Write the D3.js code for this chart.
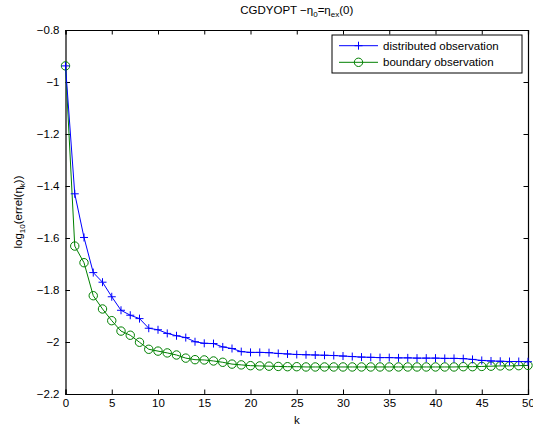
<!DOCTYPE html>
<html><head><meta charset="utf-8">
<script src="https://cdn.jsdelivr.net/npm/d3@7"></script>
<style>body{margin:0;background:#fff;} svg{display:block;font-family:"Liberation Sans",Arial,Helvetica,sans-serif;}</style>
</head><body>
<svg id="chart" width="533" height="430"></svg>
<script>
const kValues = d3.range(0, 51);
const distributed = [-0.938, -1.430, -1.598, -1.733, -1.770, -1.826, -1.878, -1.897, -1.910, -1.947,
  -1.953, -1.967, -1.976, -1.983, -1.999, -2.005, -2.006, -2.019, -2.025, -2.037,
  -2.040, -2.040, -2.041, -2.044, -2.046, -2.048, -2.049, -2.050, -2.051, -2.052,
  -2.054, -2.056, -2.058, -2.059, -2.060, -2.060, -2.061, -2.061, -2.062, -2.062,
  -2.062, -2.063, -2.063, -2.064, -2.067, -2.071, -2.073, -2.074, -2.075, -2.075, -2.076];
const boundary = [-0.938, -1.631, -1.695, -1.822, -1.873, -1.918, -1.958, -1.974, -2.001, -2.028,
  -2.035, -2.042, -2.050, -2.062, -2.068, -2.069, -2.073, -2.078, -2.085, -2.088,
  -2.091, -2.092, -2.093, -2.094, -2.095, -2.095, -2.096, -2.096, -2.096, -2.096,
  -2.096, -2.096, -2.096, -2.096, -2.096, -2.096, -2.096, -2.096, -2.096, -2.096,
  -2.096, -2.096, -2.096, -2.095, -2.095, -2.094, -2.093, -2.092, -2.092, -2.091, -2.090];
const xTicks = d3.range(0, 51, 5);
const yTicks = [-2.2, -2, -1.8, -1.6, -1.4, -1.2, -1, -0.8];
const seriesNames = ["distributed observation", "boundary observation"];
const seriesColors = ["#0000ff", "#008000"];

const svg = d3.select("#chart");
const L = 65.5, R = 528, T = 30, B = 394;
const x = d3.scaleLinear().domain([0, 50]).range([L, R]);
const y = d3.scaleLinear().domain([-2.2, -0.8]).range([B, T]);
const fmt = v => (v < 0 ? "\u2212" : "") + String(Math.abs(+v.toFixed(2))).replace(/^0\./, "0.");

// axes box
svg.append("rect").attr("x", L).attr("y", T).attr("width", R - L).attr("height", B - T)
  .attr("fill", "#fff").attr("stroke", "none");

const tl = 4.5;
const bottomAxis = d3.axisBottom(x).tickValues(xTicks).tickSize(-tl).tickPadding(6).tickFormat(d => d);
const gx = svg.append("g").attr("transform", `translate(0,${B})`).call(bottomAxis);
const gxt = svg.append("g").attr("transform", `translate(0,${T})`).call(d3.axisTop(x).tickValues(xTicks).tickSize(-tl).tickFormat(""));
const leftAxis = d3.axisLeft(y).tickValues(yTicks).tickSize(-tl).tickPadding(6).tickFormat(fmt);
const gy = svg.append("g").attr("transform", `translate(${L},0)`).call(leftAxis);
const gyr = svg.append("g").attr("transform", `translate(${R},0)`).call(d3.axisRight(y).tickValues(yTicks).tickSize(-tl).tickFormat(""));
[gx, gxt, gy, gyr].forEach(g => {
  g.select(".domain").attr("stroke", "#000").attr("stroke-width", 1.2);
  g.selectAll(".tick line").attr("stroke", "#000").attr("stroke-width", 1);
  g.selectAll("text").attr("font-size", 11.5).attr("fill", "#000")
    .attr("font-family", '"Liberation Sans",Arial,sans-serif');
});
gx.selectAll("text").attr("dy", "0.6em");

// series
const line = d3.line().x((d, i) => x(kValues[i])).y(d => y(d));
const plotG = svg.append("g");
function drawSeries(data, color, type) {
  plotG.append("path").datum(data).attr("d", line).attr("fill", "none")
    .attr("stroke", color).attr("stroke-width", 1);
  const m = plotG.append("g").selectAll("g").data(data).join("g")
    .attr("transform", (d, i) => `translate(${x(kValues[i])},${y(d)})`);
  if (type === "plus") {
    m.append("path").attr("d", "M-4,0H4M0,-4V4").attr("stroke", color).attr("stroke-width", 1).attr("fill", "none");
  } else {
    m.append("circle").attr("r", 4.2).attr("stroke", color).attr("stroke-width", 1).attr("fill", "none");
  }
}
drawSeries(boundary, seriesColors[1], "circle");
drawSeries(distributed, seriesColors[0], "plus");

// legend
const lg = svg.append("g");
lg.append("rect").attr("x", 332).attr("y", 35).attr("width", 190).attr("height", 38)
  .attr("fill", "#fff").attr("stroke", "#000").attr("stroke-width", 1);
const rows = [45.7, 62.3];
seriesNames.forEach((name, i) => {
  const yy = rows[i];
  lg.append("line").attr("x1", 339).attr("x2", 378).attr("y1", yy).attr("y2", yy)
    .attr("stroke", seriesColors[i]).attr("stroke-width", 1);
  if (i === 0) lg.append("path").attr("d", `M354.5,${yy}H362.5M358.5,${yy - 4}V${yy + 4}`).attr("stroke", seriesColors[i]);
  else lg.append("circle").attr("cx", 358.5).attr("cy", yy).attr("r", 4.2).attr("fill", "none").attr("stroke", seriesColors[i]);
  lg.append("text").attr("x", 383).attr("y", yy).attr("dy", "0.35em").attr("font-size", 11.5).text(name);
});

// title
const title = svg.append("text").attr("x", (L + R) / 2).attr("y", 14).attr("text-anchor", "middle").attr("font-size", 11.5);
title.append("tspan").text("CGDYOPT \u2212\u03b7");
title.append("tspan").attr("font-size", 8).attr("dy", 3).text("0");
title.append("tspan").attr("dy", -3).text("=\u03b7");
title.append("tspan").attr("font-size", 8).attr("dy", 3).text("ex");
title.append("tspan").attr("dy", -3).text("(0)");

// x label
svg.append("text").attr("x", (L + R) / 2).attr("y", 424).attr("text-anchor", "middle").attr("font-size", 11.5).text("k");

// y label
const yl = svg.append("text").attr("transform", `translate(22,${(T + B) / 2}) rotate(-90)`)
  .attr("text-anchor", "middle").attr("font-size", 11.5);
yl.append("tspan").text("log");
yl.append("tspan").attr("font-size", 8).attr("dy", 3).text("10");
yl.append("tspan").attr("dy", -3).text("(errel(\u03b7");
yl.append("tspan").attr("font-size", 8).attr("dy", 3).text("k");
yl.append("tspan").attr("dy", -3).text("))");
</script>
</body></html>
